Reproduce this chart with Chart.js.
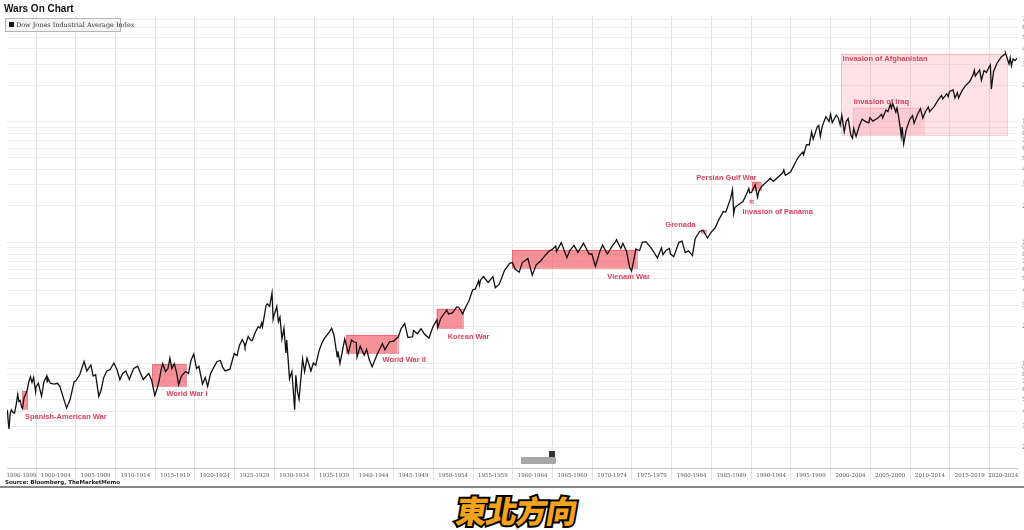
<!DOCTYPE html>
<html>
<head>
<meta charset="utf-8">
<script src="https://cdn.jsdelivr.net/npm/chart.js@4.4.1/dist/chart.umd.min.js"></script>
<style>
html,body{margin:0;padding:0;background:#fff;overflow:hidden;width:1024px;height:530px;position:relative;}
#wrap{position:absolute;left:0;top:0;width:1052px;height:482px;}
#title{position:absolute;left:4px;top:3px;font:bold 10px "Liberation Sans",sans-serif;color:#111;z-index:2;}
#legend{position:absolute;left:5px;top:18px;width:114px;height:12px;border:1px solid #b5b5b5;background:#f5f5f5;z-index:2;
  font:6.5px "DejaVu Serif",serif;color:#333;line-height:12px;white-space:nowrap;}
#legend .sw{display:inline-block;width:5px;height:5px;background:#111;margin:0 2px 0 3px;vertical-align:0px;}
#source{position:absolute;left:5px;top:479px;font:bold 5.5px "DejaVu Sans",sans-serif;color:#222;z-index:2;}
#rule{position:absolute;left:0;top:486px;width:1024px;height:2px;background:#888;}
#tool{position:absolute;left:521px;top:457px;width:35px;height:7px;background:#a8a8a8;border-radius:1px;z-index:2;}
#toolsq{position:absolute;left:549px;top:451px;width:6px;height:6px;background:#333;z-index:2;}
.wm{position:absolute;left:0;top:487px;width:1034px;text-align:center;font:900 31px "Noto Sans CJK TC",sans-serif;
  transform:skewX(-10deg);letter-spacing:-1px;}
#wm1{color:#000;-webkit-text-stroke:4px #000;}
#wm2{color:#f3a21c;}
</style>
</head>
<body>
<div id="wrap"><canvas id="c" width="1052" height="482"></canvas></div>
<div id="title">Wars On Chart</div>
<div id="legend"><span class="sw"></span>Dow Jones Industrial Average Index</div>
<div id="tool"></div><div id="toolsq"></div>
<div id="source">Source: Bloomberg, TheMarketMemo</div>
<div id="rule"></div>
<div class="wm" id="wm1">東北方向</div>
<div class="wm" id="wm2">東北方向</div>
<script>
// ---------- DATA ----------
const seriesName = 'Dow Jones Industrial Average Index';

const years = [
 1896.40,1896.50,1896.60,1896.75,1896.90,1897.10,1897.30,1897.50,1897.70,1897.85,1898.00,1898.20,1898.30,1898.50,1898.70,1898.90,
 1899.10,1899.30,1899.50,1899.70,1899.95,1900.00,1900.30,1900.70,1901.00,1901.35,1901.40,1901.45,1901.80,1902.30,1902.70,1903.00,
 1903.50,1903.85,1904.30,1904.80,1905.00,1905.50,1905.90,1906.05,1906.40,1906.60,1906.90,1907.20,1907.50,1907.90,1908.20,1908.50,
 1908.90,1909.30,1909.80,1910.20,1910.55,1910.90,1911.30,1911.75,1912.00,1912.30,1912.80,1913.10,1913.50,1913.90,1914.20,1914.55,
 1914.95,1915.20,1915.50,1915.75,1915.95,1916.30,1916.60,1916.85,1917.10,1917.40,1917.70,1917.95,1918.30,1918.80,1919.20,1919.50,
 1919.85,1920.20,1920.50,1920.95,1921.30,1921.60,1921.95,1922.40,1922.80,1923.20,1923.50,1923.80,1924.40,1924.70,1924.95,1925.30,
 1925.60,1925.95,1926.20,1926.30,1926.70,1927.00,1927.20,1927.60,1927.95,1928.20,1928.40,1928.50,1928.95,1929.10,1929.40,1929.70,
 1929.84,1929.95,1930.30,1930.50,1930.70,1930.95,1931.20,1931.45,1931.55,1931.90,1932.00,1932.20,1932.55,1932.70,1932.90,1933.10,
 1933.55,1933.80,1934.10,1934.60,1934.90,1935.20,1935.60,1935.95,1936.30,1936.90,1937.20,1937.50,1937.90,1938.00,1938.25,1938.85,
 1939.30,1939.70,1939.95,1940.30,1940.40,1940.80,1941.30,1941.60,1941.95,1942.30,1942.95,1943.60,1943.90,1944.50,1945.00,1945.60,
 1945.95,1946.40,1946.80,1947.40,1947.50,1948.00,1948.45,1948.90,1949.45,1949.95,1950.45,1950.55,1950.95,1951.70,1951.90,1952.40,
 1952.95,1953.20,1953.70,1953.95,1954.50,1954.95,1955.30,1955.70,1955.80,1955.95,1956.30,1956.90,1957.50,1957.80,1958.30,1958.95,
 1959.60,1959.95,1960.30,1960.80,1961.20,1961.90,1962.45,1962.95,1963.50,1963.95,1964.50,1964.95,1965.40,1965.50,1966.10,1966.80,
 1967.20,1967.70,1968.20,1968.90,1969.60,1969.95,1970.40,1970.95,1971.30,1971.90,1972.50,1972.95,1973.05,1973.60,1973.85,1974.30,
 1974.70,1974.95,1975.50,1975.95,1976.30,1976.75,1977.40,1977.90,1978.20,1978.70,1978.90,1979.30,1979.70,1979.85,1980.25,1980.90,
 1981.30,1981.70,1982.10,1982.60,1982.95,1983.50,1983.95,1984.50,1984.95,1985.50,1985.95,1986.50,1986.80,1986.95,1987.40,1987.65,
 1987.80,1987.95,1988.60,1988.95,1989.40,1989.70,1989.80,1990.05,1990.50,1990.80,1990.95,1991.30,1991.95,1992.40,1992.80,1993.95,
 1994.10,1994.30,1994.95,1995.50,1995.95,1996.50,1996.60,1996.95,1997.30,1997.60,1997.80,1998.30,1998.50,1998.70,1998.95,1999.40,
 1999.80,1999.99,2000.20,2000.70,2000.95,2001.20,2001.40,2001.71,2001.95,2002.20,2002.55,2002.75,2002.90,2003.20,2003.60,2003.95,
 2004.40,2004.80,2004.95,2005.30,2005.95,2006.40,2006.55,2006.95,2007.20,2007.50,2007.65,2007.80,2008.20,2008.35,2008.55,2008.80,
 2008.88,2009.00,2009.19,2009.50,2009.95,2010.30,2010.50,2010.95,2011.30,2011.60,2011.95,2012.30,2012.45,2012.95,2013.50,2013.95,
 2014.10,2014.60,2014.80,2014.95,2015.40,2015.65,2015.95,2016.10,2016.50,2016.95,2017.50,2017.95,2018.08,2018.20,2018.75,2018.97,
 2019.30,2019.60,2019.95,2020.10,2020.22,2020.50,2020.95,2021.50,2021.95,2022.00,2022.45,2022.60,2022.75,2022.95,2023.20,2023.45
];
const dow = [
 40.9,33,28.5,38,41,39,38.5,45,55,48,49,43,42,52,55,60,
 70,77,69,76,58,63,68,53,70,78,70,76,68,67,68,64,
 50,42.5,50,70,71,80,96,103,86,90,96,78,80,53,60,75,
 86,88,100,88,73,82,86,73,81,90,94,84,73,78,82,72,
 54,60,72,88,99,85,90,110,90,99,83,66,78,85,82,105,
 119,90,94,67,76,64,81,93,103,105,92,86,89,105,120,115,
 140,156,145,136,166,155,153,180,200,195,215,200,300,310,295,381,
 230,248,294,220,240,158,194,121,155,74,78,85,41,79,58,50,
 108,85,110,86,100,96,125,145,160,180,194,170,113,125,99,158,
 121,155,150,148,112,138,116,130,106,93,119,145,129,150,152,165,
 193,212,163,165,186,175,193,173,161,200,228,197,235,276,255,260,
 292,290,255,280,330,404,410,480,440,488,520,465,520,420,450,583,
 670,679,600,566,680,734,535,652,700,762,840,874,930,840,995,744,
 860,943,825,985,800,800,631,838,950,800,930,1020,1051,890,980,850,
 620,577,880,852,1000,1014,900,800,742,900,790,860,890,800,760,1000,
 1024,824,850,777,1070,1230,1260,1086,1210,1330,1550,1800,1780,1900,2300,2722,
 1739,1939,2100,2170,2500,2790,2570,2600,2999,2365,2630,2900,3170,3400,3200,3750,
 3970,3600,3830,4500,5100,5600,5300,6450,6400,8200,7160,9000,9300,7540,9180,11000,
 10000,11500,9800,11300,10780,9400,11300,8235,10000,10600,7700,7280,8800,7520,9200,10450,
 10000,9750,10780,10100,10700,11500,10700,12460,12100,13900,12900,14160,12000,13000,11000,8450,
 7550,9000,6550,8500,10400,11200,9700,11580,12800,10700,12200,13200,12100,13100,15000,16500,
 15400,17000,16100,17800,18300,15700,17400,15700,17900,19800,21500,24700,26600,23800,26800,22000,
 26500,25500,28500,29500,18600,26000,30600,34500,36300,36800,30000,33800,29000,33100,32000,33500
];

// x-axis period bands (label text) and their start years
const bandLabels = ['1896-1899','1900-1904','1905-1909','1910-1914','1915-1919','1920-1924','1925-1929','1930-1934',
  '1935-1939','1940-1944','1945-1949','1950-1954','1955-1959','1960-1964','1965-1969','1970-1974','1975-1979',
  '1980-1984','1985-1989','1990-1994','1995-1999','2000-2004','2005-2009','2010-2014','2015-2019','2020-2024'];
const bandStart = [1896,1900,1905,1910,1915,1920,1925,1930,1935,1940,1945,1950,1955,1960,1965,1970,1975,
  1980,1985,1990,1995,2000,2005,2010,2015,2020];
const bandEnd = [1900,1905,1910,1915,1920,1925,1930,1935,1940,1945,1950,1955,1960,1965,1970,1975,1980,
  1985,1990,1995,2000,2005,2010,2015,2020,2025];

// y-axis (log) tick values
const yTicks = [20,30,40,50,60,70,80,90,100,200,300,400,500,600,700,800,900,
  1000,2000,3000,4000,5000,6000,7000,8000,9000,10000,20000,30000,40000,50000,60000,70000];

// war periods: name, start, end (years), box range (index values)
const warNames = ['Spanish-American War','World War I','World War II','Korean War','Vienam War','Grenada',
  'Persian Gulf War','Invasion of Panama','Invasion of Afghanistan','Invasion of Iraq'];
const warStart = [1898.3,1914.6,1939.0,1950.4,1959.9,1983.7,1990.1,1989.8,2001.3,2002.8];
const warEnd   = [1898.95,1918.9,1945.5,1953.7,1975.6,1984.3,1991.2,1990.2,2022.2,2011.7];
const warLow   = [41.5,64.4,121,195,614,1200,2729,2128,7800,7950];
const warHigh  = [58.6,98,171,281,866,1270,3177,2253,36650,13060];
// label anchor (year, value) for each war label
const warLabelYear  = [1898.6,1916.4,1943.6,1951.8,1971.9,1979.2,1983.1,1988.9,2001.5,2002.9];
const warLabelValue = [35.6,55.3,106,164,517,1396,3430,1791,33340,14650];

// ---------- STYLE / SETUP ----------
const X_MIN = 1896.35, X_MAX = 2023.45, Y_MIN = 13.5, Y_MAX = 75000;
const boxStyle = {
  'Invasion of Afghanistan': {fill:'rgba(255,150,162,0.28)', edge:'rgba(240,120,135,0.35)'},
  'Invasion of Iraq': {fill:'rgba(245,120,135,0.22)', edge:'rgba(240,120,135,0.25)'},
  default: {fill:'rgba(240,78,90,0.62)', edge:'rgba(230,70,85,0.5)'}
};
const labelColor = '#d8435c';

const points = years.map((y,i)=>({x:y, y:dow[i]}));

const boundaries = bandStart.slice(1);
const tickMap = new Map();
tickMap.set(X_MIN,''); tickMap.set(X_MAX,'');
bandLabels.forEach((lab,i)=>{
  const lo = Math.max(bandStart[i], X_MIN), hi = Math.min(bandEnd[i], X_MAX);
  tickMap.set((lo+hi)/2, lab);
});
boundaries.forEach(b=>tickMap.set(b,''));
const xTickValues = [...tickMap.keys()].sort((a,b)=>a-b);
const boundarySet = new Set(boundaries);

const warPlugin = {
  id:'wars',
  beforeDatasetsDraw(chart){
    const {ctx, scales:{x,y}} = chart;
    ctx.save();
    warNames.forEach((n,i)=>{
      const st = boxStyle[n] || boxStyle.default;
      const x0 = x.getPixelForValue(warStart[i]), x1 = x.getPixelForValue(warEnd[i]);
      const y0 = y.getPixelForValue(warHigh[i]), y1 = y.getPixelForValue(warLow[i]);
      ctx.fillStyle = st.fill; ctx.fillRect(x0,y0,x1-x0,y1-y0);
      ctx.strokeStyle = st.edge; ctx.lineWidth = 1;
      ctx.strokeRect(Math.round(x0)+0.5,Math.round(y0)+0.5,Math.round(x1-x0),Math.round(y1-y0));
    });
    ctx.restore();
  },
  afterDatasetsDraw(chart){
    const {ctx, scales:{x,y}} = chart;
    ctx.save();
    ctx.fillStyle = labelColor;
    ctx.font = 'bold 7.5px "Liberation Sans", sans-serif';
    ctx.textAlign = 'left'; ctx.textBaseline = 'middle';
    warNames.forEach((n,i)=>{
      ctx.fillText(n, x.getPixelForValue(warLabelYear[i]), y.getPixelForValue(warLabelValue[i]));
    });
    ctx.restore();
  }
};

new Chart(document.getElementById('c'), {
  type:'line',
  data:{ datasets:[{ label:seriesName, data:points, borderColor:'#111', borderWidth:1.3,
    pointRadius:0, tension:0, fill:false }] },
  options:{
    responsive:false, animation:false, devicePixelRatio:1,
    layout:{ padding:{ left:7, top:16, right:0, bottom:0 } },
    plugins:{ legend:{display:false}, title:{display:false}, tooltip:{enabled:false} },
    scales:{
      x:{ type:'linear', min:X_MIN, max:X_MAX,
        afterBuildTicks: s => { s.ticks = xTickValues.map(v=>({value:v})); },
        afterFit: s => { s.height = 14; },
        ticks:{ autoSkip:false, maxRotation:0, minRotation:0, padding:-8, color:'#555',
          font:{ family:'DejaVu Serif', size:5.5 },
          callback: v => tickMap.get(v) ?? '' },
        grid:{ color: c => (c.tick && boundarySet.has(c.tick.value)) ? '#e4e4e4' : 'rgba(0,0,0,0)',
          tickLength:12, drawTicks:true },
        border:{ display:true, color:'#c4c4c4' }
      },
      y:{ type:'logarithmic', position:'right', min:Y_MIN, max:Y_MAX,
        afterBuildTicks: s => { s.ticks = yTicks.map(v=>({value:v})); },
        afterFit: s => { s.width = 35; },
        ticks:{ autoSkip:false, padding:5, color:'#888', font:{ family:'DejaVu Sans', size:6 },
          callback: v => Number(v).toLocaleString('en-US') },
        grid:{ color:'#ededed', drawTicks:false },
        border:{ display:false }
      }
    }
  },
  plugins:[warPlugin]
});
</script>
</body>
</html>
